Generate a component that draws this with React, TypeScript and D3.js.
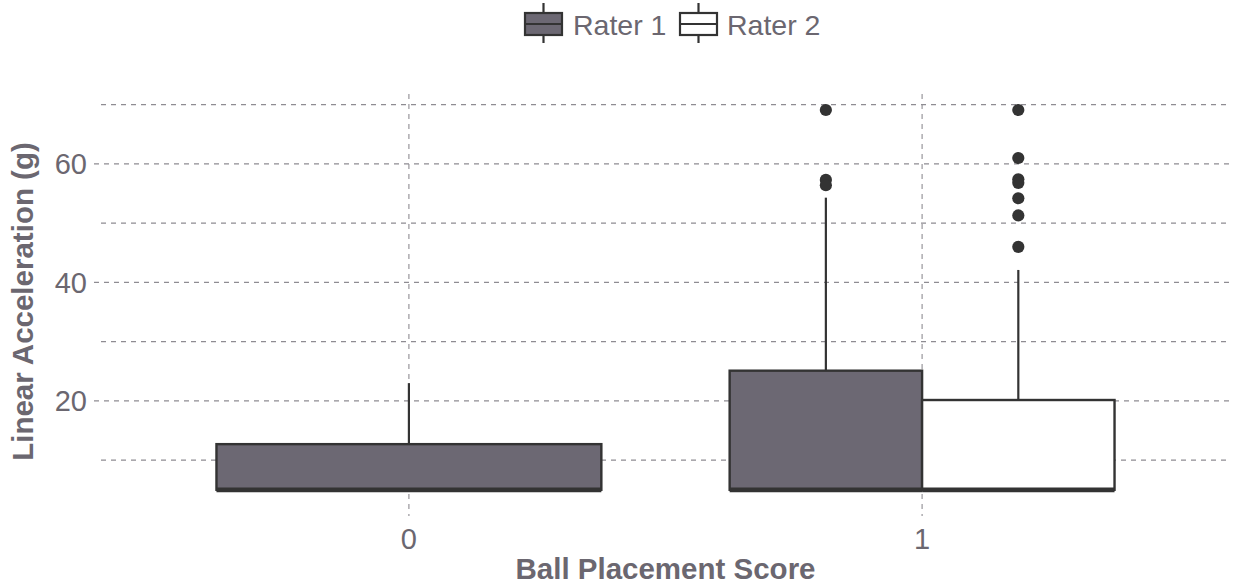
import React from "react";
import * as d3 from "d3";

const categories = ["0", "1"];
const raters = ["Rater 1", "Rater 2"];
const raterFill = ["#6c6873", "#ffffff"];

// box statistics, one entry per drawn box
const groupCategory = ["0", "1", "1"];
const groupRater = ["Rater 1", "Rater 1", "Rater 2"];
const lowerWhisker = [5.0, 5.0, 5.0];
const q1 = [5.0, 5.0, 5.0];
const median = [5.0, 5.0, 5.0];
const q3 = [12.7, 25.1, 20.15];
const upperWhisker = [23.0, 54.3, 42.1];
const outliers: number[][] = [
  [],
  [69.1, 57.3, 56.4],
  [69.1, 61.0, 57.4, 56.8, 54.2, 51.3, 46.0],
];

const yMajor = [20, 40, 60];
const yMinor = [10, 30, 50, 70];

const W = 1235;
const H = 587;
const panel = { left: 101, right: 1230, top: 94, bottom: 509 };
const textColor = "#6b6770";
const gridColor = "#8e8c92";
const lineColor = "#333333";
const font = "'Liberation Sans', Arial, Helvetica, sans-serif";

export default function App() {
  const x = d3
    .scalePoint<string>()
    .domain(categories)
    .range([panel.left, panel.right])
    .padding(0.6);
  const step = x.step();
  const boxW = step * 0.75;
  const y = d3.scaleLinear().domain([0, 70]).range([519.4, 104.65]);

  // dodge: count boxes per category
  const boxes = groupCategory.map((c, i) => {
    const members = groupCategory
      .map((cc, j) => (cc === c ? j : -1))
      .filter((j) => j >= 0);
    const n = members.length;
    const k = members.indexOf(i);
    const w = boxW / n;
    const x0 = (x(c) as number) - boxW / 2 + k * w;
    return { i, x0, w, cx: x0 + w / 2, fill: raterFill[raters.indexOf(groupRater[i])] };
  });

  const dash = "5 5";

  // legend layout
  const legendY = 24;
  const keyW = 37;
  const keyH = 22;
  const legendItems = [
    { keyX: 525, textX: 573 },
    { keyX: 680, textX: 727 },
  ];

  return (
    <svg width={W} height={H} style={{ display: "block", position: "absolute", left: 0, top: 0 }} fontFamily={font}>
      <rect x={0} y={0} width={W} height={H} fill="#ffffff" />
      {/* gridlines */}
      {yMinor.map((v) => (
        <line key={"mn" + v} x1={panel.left} x2={panel.right} y1={y(v)} y2={y(v)} stroke={gridColor} strokeWidth={1.1} strokeDasharray={dash} />
      ))}
      {yMajor.map((v) => (
        <line key={"mj" + v} x1={panel.left - 7} x2={panel.right} y1={y(v)} y2={y(v)} stroke={gridColor} strokeWidth={1.1} strokeDasharray={dash} />
      ))}
      {categories.map((c) => (
        <line key={"vx" + c} x1={x(c)} x2={x(c)} y1={panel.top} y2={panel.bottom + 7} stroke={gridColor} strokeWidth={1.1} strokeDasharray={dash} />
      ))}

      {/* boxes */}
      {boxes.map((b) => (
        <g key={"b" + b.i}>
          <line x1={b.cx} x2={b.cx} y1={y(q3[b.i])} y2={y(upperWhisker[b.i])} stroke={lineColor} strokeWidth={2.2} />
          <line x1={b.cx} x2={b.cx} y1={y(q1[b.i])} y2={y(lowerWhisker[b.i])} stroke={lineColor} strokeWidth={2.2} />
          <rect x={b.x0} y={y(q3[b.i])} width={b.w} height={y(q1[b.i]) - y(q3[b.i])} fill={b.fill} stroke={lineColor} strokeWidth={2.4} />
          <line x1={b.x0} x2={b.x0 + b.w} y1={y(median[b.i])} y2={y(median[b.i])} stroke={lineColor} strokeWidth={4.8} />
          {outliers[b.i].map((v, j) => (
            <circle key={j} cx={b.cx} cy={y(v)} r={6.1} fill={lineColor} />
          ))}
        </g>
      ))}

      {/* y tick labels */}
      {yMajor.map((v) => (
        <text key={"yt" + v} x={87} y={y(v) + 10.5} textAnchor="end" fontSize={29} fill={textColor}>
          {v}
        </text>
      ))}
      {/* x tick labels */}
      {categories.map((c) => (
        <text key={"xt" + c} x={x(c)} y={549} textAnchor="middle" fontSize={29} fill={textColor}>
          {c}
        </text>
      ))}

      {/* axis titles */}
      <text x={(panel.left + panel.right) / 2} y={579} textAnchor="middle" fontSize={29.5} fontWeight="bold" fill={textColor}>
        Ball Placement Score
      </text>
      <text transform={`translate(33,${(panel.top + panel.bottom) / 2}) rotate(-90)`} textAnchor="middle" fontSize={29.5} fontWeight="bold" fill={textColor}>
        Linear Acceleration (g)
      </text>

      {/* legend */}
      {raters.map((r, i) => {
        const it = legendItems[i];
        const cx = it.keyX + keyW / 2;
        return (
          <g key={"lg" + r}>
            <line x1={cx} x2={cx} y1={legendY - 21} y2={legendY + 19} stroke={lineColor} strokeWidth={2.2} />
            <rect x={it.keyX} y={legendY - keyH / 2} width={keyW} height={keyH} fill={raterFill[i]} stroke={lineColor} strokeWidth={2.2} />
            <line x1={it.keyX} x2={it.keyX + keyW} y1={legendY} y2={legendY} stroke={lineColor} strokeWidth={2.2} />
            <text x={it.textX} y={35} fontSize={28.5} fill={textColor}>
              {r}
            </text>
          </g>
        );
      })}
    </svg>
  );
}
